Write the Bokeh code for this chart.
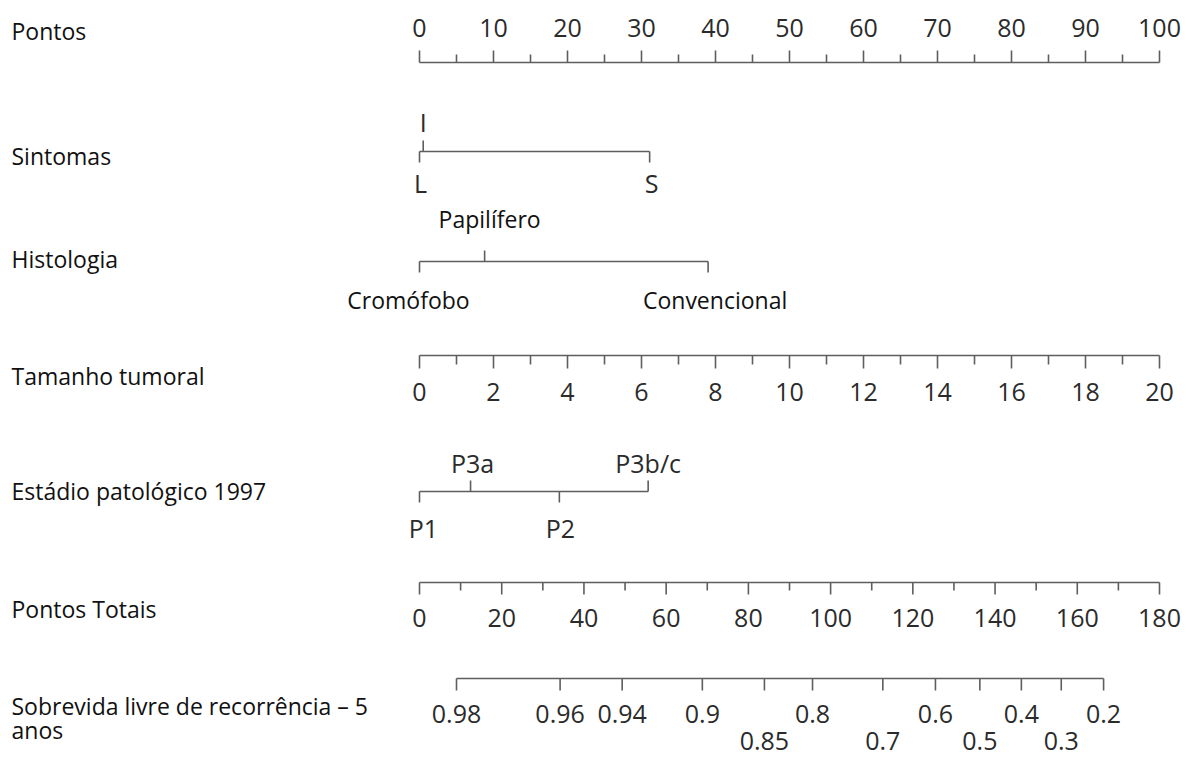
from bokeh.plotting import figure
from bokeh.models import Range1d, ColumnDataSource
from bokeh.core.properties import value
from bokeh.embed import file_html
from bokeh.resources import INLINE

# ---------------- data ----------------
row_labels = ["Pontos", "Sintomas", "Histologia", "Tamanho tumoral",
              "Estádio patológico 1997", "Pontos Totais",
              "Sobrevida livre de recorrência – 5", "anos"]

points_major = [0, 10, 20, 30, 40, 50, 60, 70, 80, 90, 100]
points_minor = [5, 15, 25, 35, 45, 55, 65, 75, 85, 95]

sint_labels = ["L", "I", "S"]
sint_points = [0.0, 0.5, 31.1]
sint_side = ["down", "up", "down"]

hist_labels = ["Cromófobo", "Papilífero", "Convencional"]
hist_points = [0.0, 8.8, 39.0]
hist_side = ["down", "up", "down"]

tam_major = [0, 2, 4, 6, 8, 10, 12, 14, 16, 18, 20]
tam_minor = [1, 3, 5, 7, 9, 11, 13, 15, 17, 19]
tam_max = 20

est_labels = ["P1", "P3a", "P2", "P3b/c"]
est_points = [0.0, 6.9, 18.9, 30.9]
est_side = ["down", "up", "down", "up"]

total_major = [0, 20, 40, 60, 80, 100, 120, 140, 160, 180]
total_minor = [10, 30, 50, 70, 90, 110, 130, 150, 170]
total_max = 180

surv_probs = [0.98, 0.96, 0.94, 0.9, 0.85, 0.8, 0.7, 0.6, 0.5, 0.4, 0.3, 0.2]
surv_total = [9.0, 34.2, 49.3, 68.8, 83.9, 95.6, 112.7, 125.5, 136.3, 146.4, 156.1, 166.4]
surv_row = [1, 1, 1, 1, 2, 1, 2, 1, 2, 1, 2, 1]

# ---------------- layout ----------------
W, H = 1188, 759
PX_PER_PT = 7.4          # pixels per "Pontos" unit
X0 = 419                 # canvas x of Pontos = 0
def Y(page_y):
    return page_y

LINE_COLOR = "#5e5e5e"
NUM_COLOR = "#2b2b2b"
TXT_COLOR = "#111111"
LW = 1.6
NUM_FONT = value("Open Sans")
TXT_FONT = value("Open Sans")
NUM_SIZE = "25px"
TXT_SIZE = "23px"

p = figure(width=W, height=H,
           x_range=Range1d(-X0 / PX_PER_PT, (W - X0) / PX_PER_PT),
           y_range=Range1d(H, 0),
           x_axis_type=None, y_axis_type=None,
           output_backend="svg", toolbar_location=None, min_border=0)
p.grid.visible = False
p.outline_line_color = None
p.background_fill_color = "white"
p.border_fill_color = "white"

def hline(x0, x1, y):
    p.segment(x0=[x0], y0=[y], x1=[x1], y1=[y], line_color=LINE_COLOR, line_width=LW)

def ticks(xs, y0, y1):
    p.segment(x0=xs, y0=[y0] * len(xs), x1=xs, y1=[y1] * len(xs),
              line_color=LINE_COLOR, line_width=LW)

def labels(xs, y, texts, size=NUM_SIZE, color=NUM_COLOR, font=NUM_FONT, dx=None):
    src = ColumnDataSource(dict(x=xs, y=[y] * len(xs), t=texts,
                                dx=dx if dx is not None else [0] * len(xs)))
    p.text(x="x", y="y", text="t", x_offset="dx", source=src,
           text_align="center", text_baseline="middle",
           text_font=font, text_font_size=size, text_color=color)

# row titles
title_y = [30, 155, 258, 375, 490, 608, 705, 729]
p.text(x=[(11 - X0) / PX_PER_PT] * len(row_labels), y=[Y(v) for v in title_y],
       text=row_labels, text_align="left", text_baseline="middle",
       text_font=TXT_FONT, text_font_size=TXT_SIZE, text_color=TXT_COLOR)

# Pontos
yl = Y(62)
hline(points_major[0], points_major[-1], yl)
ticks(points_major, yl, yl - 12)
ticks(points_minor, yl, yl - 8)
labels(points_major, Y(27), [str(v) for v in points_major])

# categorical rows
def cat_row(pts, labs, side, yline, up_y, down_y, dx, size, font, color):
    hline(min(pts), max(pts), yline)
    for x, s in zip(pts, side):
        ticks([x], yline, yline - 11 if s == "up" else yline + 11)
    ups = [i for i, s in enumerate(side) if s == "up"]
    dns = [i for i, s in enumerate(side) if s == "down"]
    labels([pts[i] for i in ups], up_y, [labs[i] for i in ups], size=size,
           font=font, color=color, dx=[dx[i] for i in ups])
    labels([pts[i] for i in dns], down_y, [labs[i] for i in dns], size=size,
           font=font, color=color, dx=[dx[i] for i in dns])

cat_row(sint_points, sint_labels, sint_side, Y(151), Y(121), Y(182),
        [1, 0, 2], NUM_SIZE, NUM_FONT, NUM_COLOR)
cat_row(hist_points, hist_labels, hist_side, Y(261), Y(218), Y(299),
        [-11, 5, 7], TXT_SIZE, TXT_FONT, TXT_COLOR)
cat_row(est_points, est_labels, est_side, Y(491), Y(462), Y(527),
        [4, 2, 1, 0], NUM_SIZE, NUM_FONT, NUM_COLOR)

# Tamanho tumoral
scale_t = points_major[-1] / tam_max
yl = Y(355)
hline(0, tam_max * scale_t, yl)
ticks([v * scale_t for v in tam_major], yl, yl + 13)
ticks([v * scale_t for v in tam_minor], yl, yl + 9)
labels([v * scale_t for v in tam_major], Y(391), [str(v) for v in tam_major])

# Pontos Totais
scale_tot = points_major[-1] / total_max
yl = Y(582)
hline(0, total_max * scale_tot, yl)
ticks([v * scale_tot for v in total_major], yl, yl + 12)
ticks([v * scale_tot for v in total_minor], yl, yl + 8)
labels([v * scale_tot for v in total_major], Y(617), [str(v) for v in total_major])

# Sobrevida
yl = Y(678)
sx = [v * scale_tot for v in surv_total]
hline(min(sx), max(sx), yl)
ticks(sx, yl, yl + 12)
r1 = [i for i, r in enumerate(surv_row) if r == 1]
r2 = [i for i, r in enumerate(surv_row) if r == 2]
labels([sx[i] for i in r1], Y(713), [str(surv_probs[i]) for i in r1])
labels([sx[i] for i in r2], Y(740), [str(surv_probs[i]) for i in r2])

open("out.html", "w").write(file_html(p, INLINE))
